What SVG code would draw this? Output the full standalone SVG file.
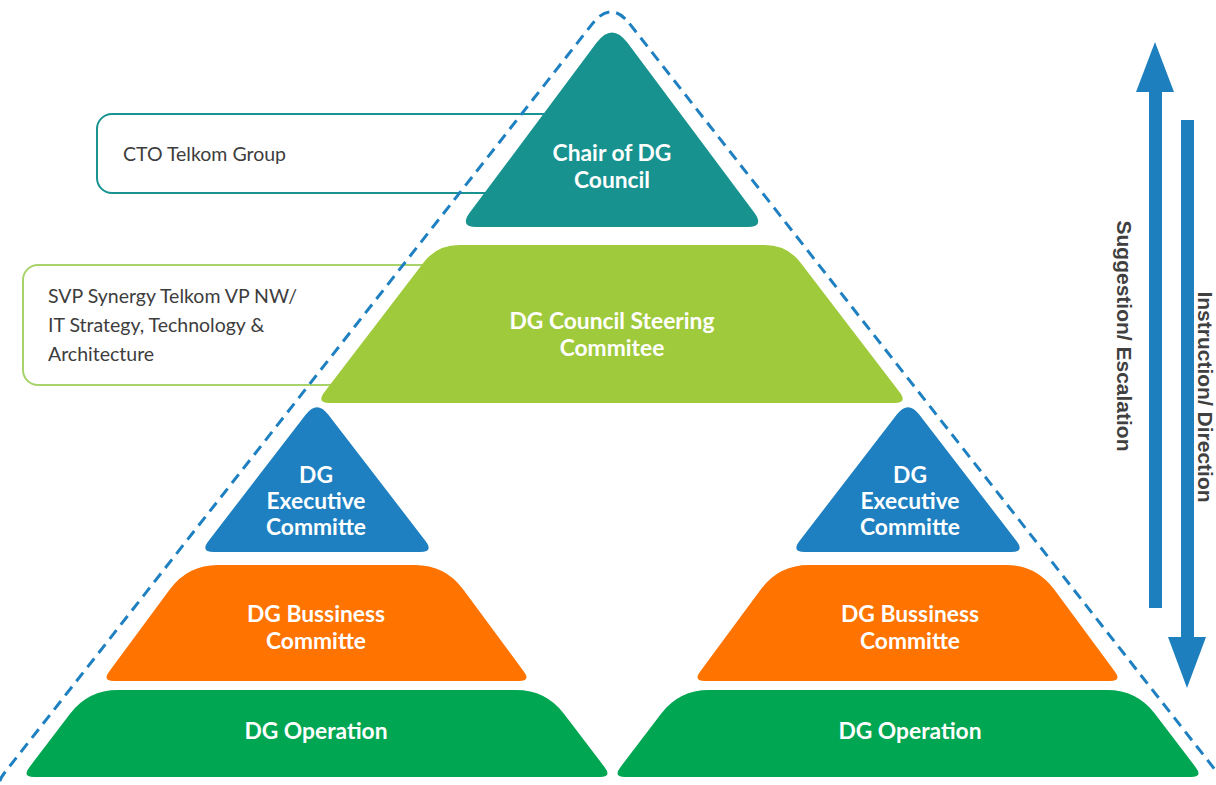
<svg xmlns="http://www.w3.org/2000/svg" width="1216" height="785" viewBox="0 0 1216 785">
  <style>
    .lbl { font-family: Lato, "Liberation Sans", sans-serif; font-weight: 700; font-size: 22.8px; fill: #ffffff; text-anchor: middle; }
    .note { font-family: Lato, "Liberation Sans", sans-serif; font-size: 19.5px; fill: #3d3d3d; }
    .side { font-family: "Liberation Sans", Arial, sans-serif; font-weight: 700; font-size: 21px; fill: #404040; text-anchor: middle; }
    .arrow { fill: #1E7FBF; }
  </style>
  <rect width="1216" height="785" fill="#ffffff"/>

  <g id="callouts">
    <rect id="cto-box" x="97" y="114" width="520" height="79" rx="15" fill="#ffffff" stroke="#1A9390" stroke-width="2"/>
    <text class="note" x="123" y="161">CTO Telkom Group</text>
    <rect id="svp-box" x="23" y="265" width="560" height="120" rx="15" fill="#ffffff" stroke="#A8D36B" stroke-width="2"/>
    <text class="note" x="48" y="303">SVP Synergy Telkom VP NW/</text>
    <text class="note" x="48" y="332">IT Strategy, Technology &amp;</text>
    <text class="note" x="48" y="361">Architecture</text>
  </g>

  <g id="boundary">
    <path d="M 629.5,23.6 L 1217.4,772.7 Q 1231,790 1209,790 L 13,790 Q -9,790 4.6,772.7 L 592.5,23.6 Q 611,0 629.5,23.6 Z" fill="none" stroke="#1E80C1" stroke-width="3" stroke-dasharray="11 7"/>
  </g>

  <g id="chair">
    <path d="M 627.5,42.8 L 754.2,212.6 Q 765,227 747,227 L 477,227 Q 459,227 469.8,212.6 L 596.5,42.8 Q 612,22 627.5,42.8 Z" fill="#17928F"/>
    <text class="lbl" x="612" y="161">Chair of DG</text>
    <text class="lbl" x="612" y="188">Council</text>
  </g>

  <g id="steering">
    <path d="M 459,245 L 765,245 Q 787,245 800.4,262.5 L 899.5,391.9 Q 908,403 894,403 L 330,403 Q 316,403 324.5,391.9 L 423.6,262.5 Q 437,245 459,245 Z" fill="#9FCA3C"/>
    <text class="lbl" x="612" y="329">DG Council Steering</text>
    <text class="lbl" x="612" y="356">Commitee</text>
  </g>

  <g id="exec-left">
    <path d="M 328,414.3 L 425.5,540.9 Q 434,552 420,552 L 214,552 Q 200,552 208.5,540.9 L 306,414.3 Q 317,400 328,414.3 Z" fill="#1E80C1"/>
    <text class="lbl" x="316" y="483">DG</text>
    <text class="lbl" x="316" y="509">Executive</text>
    <text class="lbl" x="316" y="535">Committe</text>
  </g>

  <g id="exec-right">
    <path d="M 919,414.3 L 1016.5,540.9 Q 1025,552 1011,552 L 805,552 Q 791,552 799.5,540.9 L 897,414.3 Q 908,400 919,414.3 Z" fill="#1E80C1"/>
    <text class="lbl" x="910" y="483">DG</text>
    <text class="lbl" x="910" y="509">Executive</text>
    <text class="lbl" x="910" y="535">Committe</text>
  </g>

  <g id="business-left">
    <path d="M 218,565 L 415,565 Q 445,565 462.9,589.1 L 523.8,671.4 Q 531,681 519,681 L 114,681 Q 102,681 109.2,671.4 L 170.1,589.1 Q 188,565 218,565 Z" fill="#FF7300"/>
    <text class="lbl" x="316" y="622">DG Bussiness</text>
    <text class="lbl" x="316" y="649">Committe</text>
  </g>

  <g id="business-right">
    <path d="M 809,565 L 1006,565 Q 1036,565 1053.9,589.1 L 1114.8,671.4 Q 1122,681 1110,681 L 705,681 Q 693,681 700.2,671.4 L 761.1,589.1 Q 779,565 809,565 Z" fill="#FF7300"/>
    <text class="lbl" x="910" y="622">DG Bussiness</text>
    <text class="lbl" x="910" y="649">Committe</text>
  </g>

  <g id="operation-left">
    <path d="M 118,690 L 516,690 Q 546,690 564.1,713.9 L 604.8,767.4 Q 612,777 600,777 L 34,777 Q 22,777 29.2,767.4 L 69.9,713.9 Q 88,690 118,690 Z" fill="#00A651"/>
    <text class="lbl" x="316" y="739">DG Operation</text>
  </g>

  <g id="operation-right">
    <path d="M 709,690 L 1107,690 Q 1137,690 1155.1,713.9 L 1195.8,767.4 Q 1203,777 1191,777 L 625,777 Q 613,777 620.2,767.4 L 660.9,713.9 Q 679,690 709,690 Z" fill="#00A651"/>
    <text class="lbl" x="910" y="739">DG Operation</text>
  </g>

  <g id="connectors">
    <polygon class="arrow" points="1155,42 1174,92 1162,92 1162,608 1149,608 1149,92 1136,92"/>
    <polygon class="arrow" points="1181,120 1194,120 1194,637 1206,637 1187,688 1168,637 1181,637"/>
  </g>

  <g id="direction-labels">
    <text class="side" transform="translate(1117,336) rotate(90)">Suggestion/ Escalation</text>
    <text class="side" transform="translate(1198,397) rotate(90)">Instruction/ Direction</text>
  </g>
</svg>
